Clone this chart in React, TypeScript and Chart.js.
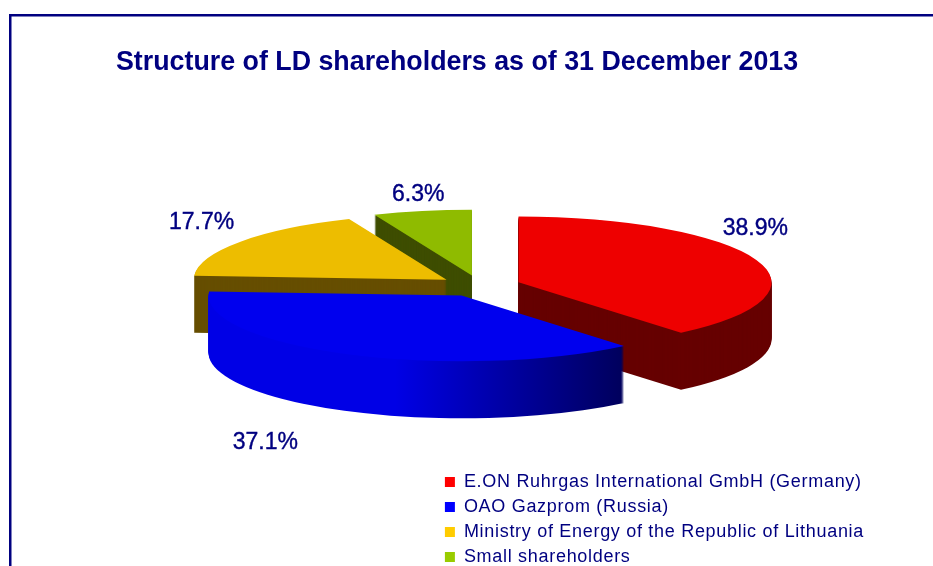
import React, { useEffect, useRef } from "react";
import { Chart, registerables } from "chart.js";

Chart.register(...registerables);

const titleText = "Structure of LD shareholders as of 31 December 2013";
const categories = [
  "E.ON Ruhrgas International GmbH (Germany)",
  "OAO Gazprom (Russia)",
  "Ministry of Energy of the Republic of Lithuania",
  "Small shareholders",
];
const shares = [38.9, 37.1, 17.7, 6.3];
const topColors = ["#ee0000", "#0000ee", "#edbd00", "#8fbb00"];
const legendColors = ["#ff0000", "#0000ff", "#ffcc00", "#99cc00"];
const wallColors = ["#660000", "#0000e6", "#664e00", "#3e4d00"];
const wallColorEnd = "#00005c";
const wallOrder = [3, 2, 0, 1];
const labelNudges = [[-1, -31], [-82, 88], [-39, -19], [-4, -16]];

const NAVY = "#000080";
const FONT = "'Liberation Sans', Arial, sans-serif";
const CENTER_X = 480;
const CENTER_Y = 286;
const SQUASH = 0.26;
const DEPTH = 57;
const RADIUS = 253;
const EXPLODE = 41;
const TEXT_SPACING = "0.7px";

const pie3d = {
  id: "pie3d",
  beforeLayout(chart: any) {
    chart.ctx.letterSpacing = TEXT_SPACING;
  },
  beforeDraw(chart: any) {
    const { ctx, width, height } = chart;
    ctx.letterSpacing = TEXT_SPACING;
    const block = chart.titleBlock;
    if (block && !block.__plainSpacing) {
      const drawTitle = block.draw.bind(block);
      block.draw = () => {
        ctx.letterSpacing = "0px";
        drawTitle();
        ctx.letterSpacing = TEXT_SPACING;
      };
      block.__plainSpacing = true;
    }
    ctx.save();
    ctx.fillStyle = "#ffffff";
    ctx.fillRect(0, 0, width, height);
    ctx.fillStyle = NAVY;
    ctx.fillRect(9, 14, width - 9, 2.5);
    ctx.fillRect(9, 14, 2.5, height - 14);
    ctx.restore();
  },
  beforeDatasetsDraw(chart: any) {
    const { ctx } = chart;
    const arcs = chart.getDatasetMeta(0).data;
    const centre = (a: any) => {
      const mid = (a.startAngle + a.endAngle) / 2;
      return [
        CENTER_X + Math.cos(mid) * EXPLODE,
        CENTER_Y + Math.sin(mid) * EXPLODE * SQUASH,
      ];
    };
    ctx.save();
    for (const i of wallOrder) {
      const a = arcs[i];
      const [sx, sy] = centre(a);
      let fill: any = wallColors[i];
      if (i === 1) {
        const g = ctx.createLinearGradient(sx - a.outerRadius, 0, sx + a.outerRadius * 0.64, 0);
        g.addColorStop(0, wallColors[1]);
        g.addColorStop(0.45, wallColors[1]);
        g.addColorStop(1, wallColorEnd);
        fill = g;
      }
      ctx.fillStyle = fill;
      for (let d = DEPTH; d >= 1; d--) {
        ctx.beginPath();
        ctx.moveTo(sx, sy + d);
        ctx.ellipse(sx, sy + d, a.outerRadius, a.outerRadius * SQUASH, 0, a.startAngle, a.endAngle);
        ctx.closePath();
        ctx.fill();
      }
    }
    ctx.restore();
    arcs.forEach((a: any) => {
      const [sx, sy] = centre(a);
      ctx.save();
      ctx.translate(sx, sy);
      ctx.scale(1, SQUASH);
      ctx.translate(-a.x, -a.y);
      a.draw(ctx);
      ctx.restore();
    });
    return false;
  },
  afterDraw(chart: any) {
    const { ctx } = chart;
    const arcs = chart.getDatasetMeta(0).data;
    ctx.save();
    ctx.letterSpacing = "0px";
    ctx.fillStyle = NAVY;
    ctx.strokeStyle = NAVY;
    ctx.lineWidth = 0.4;
    ctx.font = `23px ${FONT}`;
    ctx.textAlign = "center";
    ctx.textBaseline = "middle";
    arcs.forEach((a: any, i: number) => {
      const mid = (a.startAngle + a.endAngle) / 2;
      const x = CENTER_X + Math.cos(mid) * (EXPLODE + a.outerRadius) + labelNudges[i][0];
      const y = CENTER_Y + Math.sin(mid) * (EXPLODE + a.outerRadius) * SQUASH + labelNudges[i][1];
      const text = `${shares[i].toFixed(1)}%`;
      ctx.fillText(text, x, y);
      ctx.strokeText(text, x, y);
    });
    ctx.restore();
  },
};

export default function App() {
  const ref = useRef<HTMLCanvasElement | null>(null);
  useEffect(() => {
    const chart = new Chart(ref.current!, {
      type: "pie",
      data: {
        labels: categories,
        datasets: [
          {
            data: shares,
            backgroundColor: topColors,
            borderWidth: 0,
            radius: RADIUS,
            clip: false,
          } as any,
        ],
      },
      options: {
        responsive: false,
        animation: false,
        events: [],
        layout: { padding: { left: 116, right: 59, top: 0, bottom: -7 } },
        plugins: {
          tooltip: { enabled: false },
          title: {
            display: true,
            text: titleText,
            align: "start",
            color: NAVY,
            font: { family: FONT, size: 26.8, weight: "bold" },
            padding: { top: 47, bottom: 10 },
          },
          legend: {
            display: true,
            position: "right",
            align: "end",
            maxWidth: 480,
            labels: {
              boxWidth: 10,
              boxHeight: 10,
              color: NAVY,
              font: { family: FONT, size: 18 },
              padding: 7,
              generateLabels: () =>
                categories.map((text, i) => ({
                  text,
                  fillStyle: legendColors[i],
                  strokeStyle: legendColors[i],
                  lineWidth: 0,
                  fontColor: NAVY,
                  index: i,
                  hidden: false,
                })),
            },
          },
        },
      } as any,
      plugins: [pie3d],
    });
    return () => chart.destroy();
  }, []);
  return (
    <div style={{ position: "absolute", left: 0, top: 0 }}>
      <canvas ref={ref} width={933} height={566} style={{ display: "block" }} />
    </div>
  );
}
